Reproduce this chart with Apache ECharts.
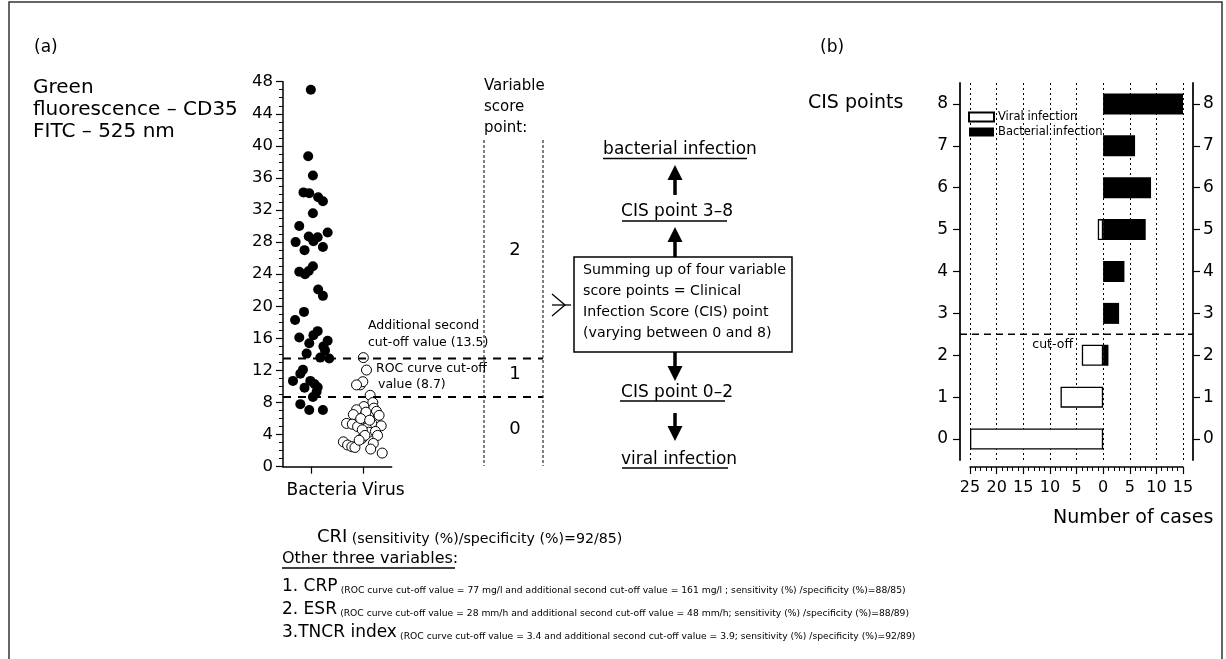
<!DOCTYPE html>
<html><head><meta charset="utf-8">
<script src="https://cdn.jsdelivr.net/npm/echarts@6/dist/echarts.min.js"></script>
<style>html,body{margin:0;padding:0;background:#fff}#c{width:1226px;height:659px}</style>
</head><body><div id="c"></div>
<script>
// ---------- DATA ----------
const groups = ['Bacteria', 'Virus'];
// [jittered group position, green fluorescence CD35]
const bacteriaPoints = [[1.00,47.0],[0.95,38.7],[1.04,36.3],[0.86,34.2],[0.97,34.1],[1.14,33.6],[1.23,33.1],[1.04,31.6],[0.78,30.0],[1.32,29.2],[0.96,28.7],[1.13,28.6],[0.71,28.0],[1.05,28.1],[1.23,27.4],[0.88,27.0],[0.78,24.3],[0.89,24.0],[0.96,24.4],[1.04,25.0],[1.14,22.1],[1.23,21.3],[0.87,19.3],[0.70,18.3],[0.78,16.1],[1.13,16.9],[1.05,16.4],[0.97,15.4],[1.32,15.7],[1.24,15.0],[1.27,14.5],[0.92,14.1],[1.18,13.6],[1.35,13.5],[0.85,12.1],[0.80,11.6],[0.66,10.7],[0.99,10.7],[1.07,10.3],[1.13,9.9],[0.88,9.85],[1.11,9.35],[1.04,8.7],[0.80,7.8],[0.97,7.07],[1.23,7.07]];
const virusPoints = [[2.00,13.6],[2.06,12.05],[1.94,10.2],[1.99,10.6],[1.87,10.2],[2.13,8.9],[2.18,8.0],[2.01,7.5],[1.87,7.1],[2.20,7.3],[2.25,6.9],[2.30,6.4],[2.10,6.3],[1.81,6.5],[1.92,5.6],[1.68,5.4],[1.79,5.3],[1.89,5.0],[2.16,5.4],[2.06,4.8],[2.34,5.1],[2.10,4.3],[2.23,4.4],[1.97,3.5],[2.27,3.9],[1.62,3.1],[1.70,2.7],[1.78,2.5],[1.84,2.4],[2.19,2.9],[2.14,2.2],[2.36,1.7],[2.05,6.8],[1.95,6.0],[2.12,5.8],[1.98,4.6],[2.03,3.9],[1.92,3.3]];
const cutoffs = [13.5, 8.7];               // additional second cut-off, ROC cut-off
const scoreLabels = ['2', '1', '0'];
const cisPoints = ['0','1','2','3','4','5','6','7','8'];
const viralCases = [25, 8, 4, 0, 0, 1, 0, 0, 0];
const bacterialCases = [0, 0, 1, 3, 4, 8, 9, 6, 15];
const cisCutoff = 2.5;
const seriesNames = ['Viral infection', 'Bacterial infection'];

const FF = 'DejaVu Sans';
const chart = echarts.init(document.getElementById('c'), null, {renderer: 'canvas'});

const option = {
  animation: false,
  backgroundColor: '#fff',
  textStyle: {fontFamily: FF, color: '#000'},
  grid: [
    {left: 283, top: 81.7, width: 108.7, height: 385},
    {left: 970, top: 83, width: 213, height: 377}
  ],
  legend: {
    data: seriesNames.map(n => ({name: n, icon: 'rect'})), orient: 'vertical', left: 968, top: 111,
    itemWidth: 25, itemHeight: 9, itemGap: 3, padding: 0,
    textStyle: {fontSize: 11.5, fontFamily: FF, color: '#000', padding: [0, 0, 0, -1]}
  },
  xAxis: [
    {gridIndex: 0, type: 'value', min: 0.47, max: 2.54,
     splitLine: {show: false},
     axisLine: {show: true, onZero: false, lineStyle: {color: '#000', width: 1.5}},
     axisTick: {show: true, customValues: [1, 2], length: 7, lineStyle: {color: '#000', width: 1.2}},
     axisLabel: {customValues: [1, 2], margin: 15, color: '#000', fontFamily: FF,
       formatter: v => v === 1 ? '{b|' + groups[0] + '}' : '{v|' + groups[1] + '}',
       rich: {b: {fontSize: 17, fontFamily: FF, padding: [0, 0, 0, 22]},
              v: {fontSize: 17, fontFamily: FF, padding: [0, 0, 0, 40]}}}},
    {gridIndex: 1, type: 'value', min: -25, max: 15, interval: 5, offset: 7,
     axisLine: {show: true, onZero: false, lineStyle: {color: '#000', width: 1.5}},
     axisTick: {show: true, length: 7, lineStyle: {color: '#000', width: 1.2}},
     minorTick: {show: true, splitNumber: 5, length: 4, lineStyle: {color: '#000', width: 1}},
     splitLine: {show: true, lineStyle: {type: [2, 3], color: '#000', width: 1}},
     axisLabel: {formatter: v => String(Math.abs(v)), fontSize: 16, margin: 13, color: '#000', fontFamily: FF}}
  ],
  yAxis: [
    {gridIndex: 0, type: 'value', min: 0, max: 48, interval: 4,
     splitLine: {show: false},
     axisLine: {show: true, onZero: false, lineStyle: {color: '#000', width: 1.5}},
     axisTick: {show: true, length: 7, lineStyle: {color: '#000', width: 1.2}},
     minorTick: {show: true, splitNumber: 4, length: 4, lineStyle: {color: '#000', width: 1}},
     axisLabel: {fontSize: 16.5, margin: 10, color: '#000', fontFamily: FF}},
    {gridIndex: 1, type: 'category', data: cisPoints, position: 'left', offset: 10,
     axisLine: {show: true, onZero: false, lineStyle: {color: '#222', width: 2}},
     axisTick: {show: true, alignWithLabel: true, length: 7, lineStyle: {color: '#000', width: 1.2}},
     axisLabel: {fontSize: 17, margin: 12, color: '#000', fontFamily: FF}},
    {gridIndex: 1, type: 'category', data: cisPoints, position: 'right', offset: 10,
     axisLine: {show: true, onZero: false, lineStyle: {color: '#222', width: 2}},
     axisTick: {show: true, alignWithLabel: true, length: 7, lineStyle: {color: '#000', width: 1.2}},
     axisLabel: {fontSize: 17, margin: 10, color: '#000', fontFamily: FF}},
    {gridIndex: 1, type: 'value', min: -0.5, max: 8.5, show: false}
  ],
  series: [
    {type: 'scatter', xAxisIndex: 0, yAxisIndex: 0, data: bacteriaPoints, symbolSize: 10,
     itemStyle: {color: '#000', opacity: 1}},
    {type: 'scatter', xAxisIndex: 0, yAxisIndex: 0, data: virusPoints, symbolSize: 10,
     itemStyle: {color: '#fff', borderColor: '#000', borderWidth: 1, opacity: 1}},
    {name: seriesNames[0], type: 'bar', xAxisIndex: 1, yAxisIndex: 1, stack: 'cis', barWidth: 21,
     data: viralCases.map(v => v === 0 ? '-' : -v),
     itemStyle: {color: '#fff', borderColor: '#000', borderWidth: 1.3}},
    {name: seriesNames[1], type: 'bar', xAxisIndex: 1, yAxisIndex: 1, stack: 'cis', barWidth: 21,
     data: bacterialCases.map(v => v === 0 ? '-' : v),
     itemStyle: {color: '#000'}}
  ]
};
chart.setOption(option);

// ---------- annotations ----------
function txt(x, y, text, size, extra) {
  return Object.assign({type: 'text', x: x, y: y, z: 100,
    style: Object.assign({text: text, fontSize: size, fontFamily: FF, fill: '#000',
      textAlign: 'left', textVerticalAlign: 'middle'}, (extra || {}))});
}
function line(x1, y1, x2, y2, w, dash) {
  return {type: 'line', z: 90, shape: {x1: x1, y1: y1, x2: x2, y2: y2},
    style: {stroke: '#000', lineWidth: w || 1, lineDash: dash || null}};
}
function arrow(x, yStart, yTip) {
  const dir = yTip < yStart ? -1 : 1;
  const base = yTip - dir * 15;
  return [
    line(x, yStart, x, base, 3.5),
    {type: 'polygon', z: 90, shape: {points: [[x - 7.5, base], [x + 7.5, base], [x, yTip]]}, style: {fill: '#000'}}
  ];
}
const g = [];
// frame
g.push({type: 'rect', z: 1, shape: {x: 9, y: 2, width: 1213, height: 720}, style: {fill: null, stroke: '#333', lineWidth: 1.5}});
// panel a labels
g.push(txt(34, 48, '(a)', 17));
g.push(txt(33, 88, 'Green', 20));
g.push(txt(33, 110, 'fluorescence \u2013 CD35', 20));
g.push(txt(33, 132, 'FITC \u2013 525 nm', 20));
// cut-off dashed lines
cutoffs.forEach(c => {
  const y = chart.convertToPixel({yAxisIndex: 0}, c);
  g.push(line(283, y, 543, y, 2, [8, 7]));
});
g.push(txt(368, 326, 'Additional second', 12.5));
g.push(txt(368, 343, 'cut-off value (' + cutoffs[0] + ')', 12.5));
g.push(txt(376, 369, 'ROC curve cut-off', 12.5));
g.push(txt(378, 385, 'value (' + cutoffs[1] + ')', 12.5));
// variable score column
g.push(txt(484, 86, 'Variable', 15));
g.push(txt(484, 107, 'score', 15));
g.push(txt(484, 128, 'point:', 15));
g.push(line(484, 140, 484, 466, 1, [3, 2]));
g.push(line(543, 140, 543, 466, 1, [3, 2]));
g.push(txt(515, 250, scoreLabels[0], 18, {textAlign: 'center'}));
g.push(txt(515, 374, scoreLabels[1], 18, {textAlign: 'center'}));
g.push(txt(515, 429, scoreLabels[2], 18, {textAlign: 'center'}));
// merge symbol
g.push({type: 'polyline', z: 90, shape: {points: [[552, 294], [565, 305], [552, 316]]}, style: {stroke: '#000', lineWidth: 1.3, fill: null}});
g.push(line(552, 305, 571, 305, 1.3));
// flowchart
g.push({type: 'rect', z: 80, shape: {x: 574, y: 257, width: 218, height: 95}, style: {fill: '#fff', stroke: '#000', lineWidth: 1.5}});
['Summing up of four variable', 'score points = Clinical', 'Infection Score (CIS) point', '(varying between 0 and 8)']
  .forEach((t, i) => g.push(txt(583, 270 + i * 21, t, 14.2)));
g.push(txt(680, 150, 'bacterial infection', 17, {textAlign: 'center'}));
g.push(line(603, 158.5, 747, 158.5, 1.3));
g.push(txt(677, 212, 'CIS point 3\u20138', 17, {textAlign: 'center'}));
g.push(line(622, 221, 727, 221, 1.3));
g.push(txt(677, 393, 'CIS point 0\u20132', 17, {textAlign: 'center'}));
g.push(line(620, 401, 725, 401, 1.3));
g.push(txt(679, 460, 'viral infection', 17, {textAlign: 'center'}));
g.push(line(622, 468, 728, 468, 1.3));
g.push(...arrow(675, 195, 165));
g.push(...arrow(675, 257, 227));
g.push(...arrow(675, 352, 381));
g.push(...arrow(675, 413, 441));
// panel b labels
g.push(txt(820, 48, '(b)', 17));
g.push(txt(808, 103, 'CIS points', 19));
const yc = chart.convertToPixel({yAxisIndex: 3}, cisCutoff);
g.push(line(960, yc, 1193, yc, 1.5, [7, 5]));
g.push(txt(1073, 345, 'cut-off', 12.5, {textAlign: 'right'}));
g.push(txt(1053, 518, 'Number of cases', 19));
// bottom notes
g.push(txt(317, 537, '{a|CRI} {b|(sensitivity (%)/specificity (%)=92/85)}', 14, {
  rich: {a: {fontSize: 18, fontFamily: FF, verticalAlign: 'bottom'}, b: {fontSize: 14.2, fontFamily: FF, verticalAlign: 'bottom'}}}));
g.push(txt(282, 559, 'Other three variables:', 16));
g.push(line(282, 568, 455, 568, 1.3));
const notes = [
  ['1. CRP', '(ROC curve cut-off value = 77 mg/l and additional second cut-off value = 161 mg/l ; sensitivity (%) /specificity (%)=88/85)'],
  ['2. ESR', '(ROC curve cut-off value = 28 mm/h and additional second cut-off value = 48 mm/h; sensitivity (%) /specificity (%)=88/89)'],
  ['3.TNCR index', '(ROC curve cut-off value = 3.4 and additional second cut-off value = 3.9; sensitivity (%) /specificity (%)=92/89)']
];
notes.forEach((n, i) => g.push(txt(282, 587 + i * 23, '{a|' + n[0] + '} {b|' + n[1] + '}', 10, {
  rich: {a: {fontSize: 17, fontFamily: FF, verticalAlign: 'bottom'}, b: {fontSize: 9.2, fontFamily: FF, verticalAlign: 'bottom'}}})));

chart.setOption({graphic: g});
</script></body></html>
